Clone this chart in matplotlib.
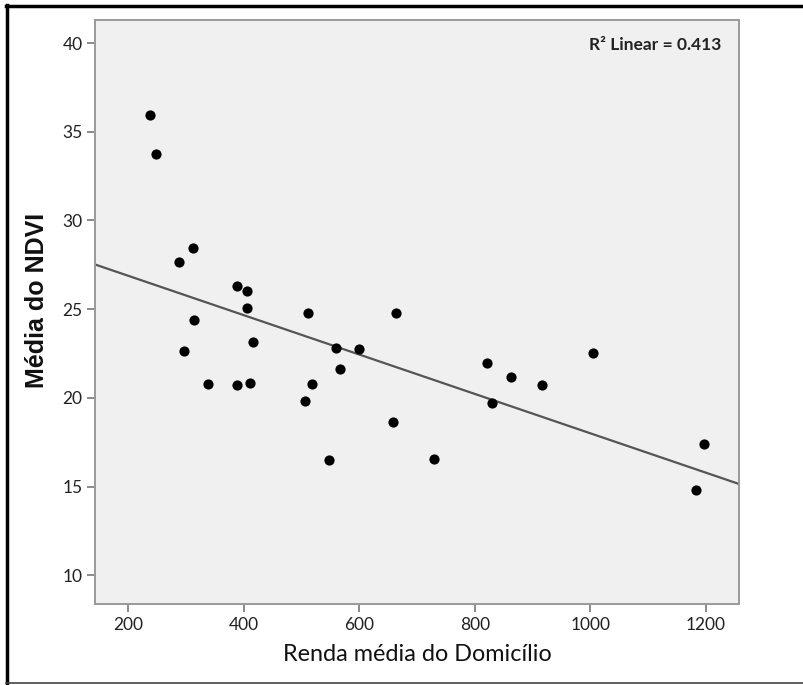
import numpy as np
import matplotlib
matplotlib.use("Agg")
import matplotlib.pyplot as plt
from matplotlib.lines import Line2D

plt.rcParams['font.family'] = ['Lato', 'DejaVu Sans']

# Data
renda = [238, 248, 288, 313, 315, 297, 339, 388, 406, 406, 417, 388, 411, 511, 560,
         600, 566, 519, 506, 663, 821, 863, 916, 1004, 829, 658, 729, 1197, 1183, 548]
ndvi = [35.94, 33.74, 27.65, 28.44, 24.39, 22.65, 20.78, 26.32, 26.00, 25.08, 23.13,
        20.70, 20.85, 24.80, 22.82, 22.73, 21.61, 20.78, 19.84, 24.76, 21.98, 21.19,
        20.72, 22.54, 19.69, 18.62, 16.57, 17.40, 14.80, 16.49]
x_ticks = [200, 400, 600, 800, 1000, 1200]
y_ticks = [10, 15, 20, 25, 30, 35, 40]
r2_label = "R² Linear = 0.413"
x_label = "Renda média do Domicílio"
y_label = "Média do NDVI"

W, H = 804, 685
fig = plt.figure(figsize=(W / 100, H / 100), dpi=100)
fig.patch.set_facecolor('white')

L, R, T, B = 95, 739, 20, 604
ax = fig.add_axes([L / W, (H - B) / H, (R - L) / W, (B - T) / H])
ax.set_facecolor('#f0f0f0')

xlim = (143, 1257)
ylim = (8.38, 41.3)
ax.set_xlim(*xlim)
ax.set_ylim(*ylim)

ax.scatter(renda, ndvi, s=54, color='black', zorder=3, linewidths=0)

slope, intercept = np.polyfit(renda, ndvi, 1)
xs = np.array(xlim)
ax.plot(xs, intercept + slope * xs, color='#555555', lw=1.6, zorder=2)

ax.set_xticks(x_ticks)
ax.set_yticks(y_ticks)
ax.tick_params(axis='both', direction='out', length=6, width=1.2, color='#777777',
               labelsize=12.5, labelcolor='#222222', pad=3)
for side in ['left', 'bottom', 'right', 'top']:
    ax.spines[side].set_color('#999999')
    ax.spines[side].set_linewidth(1.4)

ax.set_xlabel(x_label, fontsize=16.8, color='#111111', labelpad=8)
ax.set_ylabel(y_label, fontsize=18, fontweight='bold', color='#111111',
              family=['Liberation Sans', 'DejaVu Sans'])
ax.yaxis.set_label_coords(-0.072, 0.52)

ax.text(0.972, 0.957, r2_label, transform=ax.transAxes, ha='right', va='center',
        fontsize=12.5, fontweight='bold', color='#222222')

# outer frame lines
fig.add_artist(Line2D([7 / W, 7 / W], [0, 1 - 5 / H], color='black', lw=2.5,
                      transform=fig.transFigure))
fig.add_artist(Line2D([6 / W, 1], [1 - 6 / H, 1 - 6 / H], color='black', lw=2.5,
                      transform=fig.transFigure))
fig.add_artist(Line2D([6 / W, 1], [2 / H, 2 / H], color='#444444', lw=1.2,
                      transform=fig.transFigure))

fig.savefig('out.png', dpi=100)
